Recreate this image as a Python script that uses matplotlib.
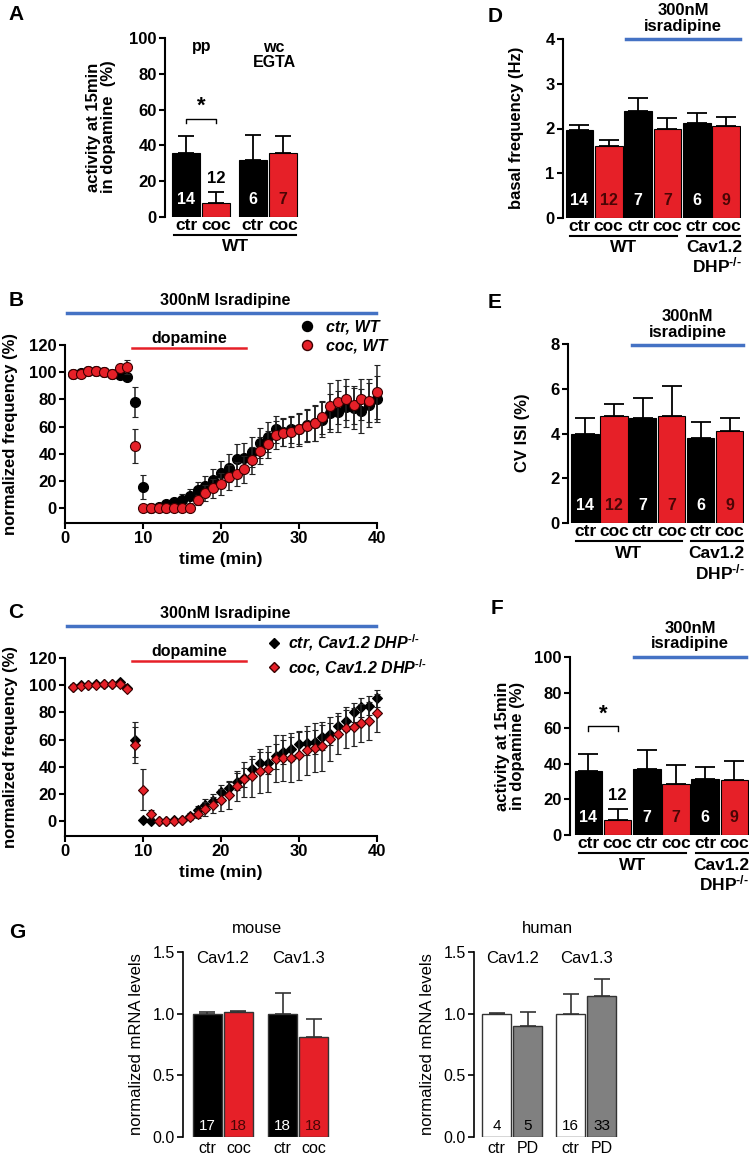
import numpy as np
import matplotlib
matplotlib.use("Agg")
import matplotlib.pyplot as plt
from matplotlib.lines import Line2D

plt.rcParams['font.family'] = ['Liberation Sans', 'DejaVu Sans']
plt.rcParams['font.weight'] = 'bold'
plt.rcParams['axes.labelweight'] = 'bold'
plt.rcParams['mathtext.fontset'] = 'custom'
plt.rcParams['mathtext.rm'] = 'Liberation Sans:bold'
plt.rcParams['mathtext.it'] = 'Liberation Sans:bold:italic'
plt.rcParams['mathtext.bf'] = 'Liberation Sans:bold'
plt.rcParams['axes.linewidth'] = 1.5

RED = '#e62028'
DARKRED = '#4a0505'
BLUE = '#4472c4'
NARROW = ['Liberation Sans Narrow', 'Liberation Sans', 'DejaVu Sans']
SUP = r'$^{\text{-/-}}$'

# ---- data ----
# A: activity at 15 min in dopamine, pp / wc EGTA
a_labels = ['ctr', 'coc', 'ctr', 'coc']
a_mean = [36, 8, 32, 36]
a_sem = [9, 6, 14, 9.5]
a_n = ['14', '12', '6', '7']

# D, E, F: WT ctr/coc, WT + isradipine ctr/coc, Cav1.2 DHP-/- + isradipine ctr/coc
def_labels = ['ctr', 'coc', 'ctr', 'coc', 'ctr', 'coc']
def_n = ['14', '12', '7', '7', '6', '9']
d_mean = [1.97, 1.62, 2.39, 1.98, 2.12, 2.06]
d_sem = [0.11, 0.12, 0.30, 0.25, 0.23, 0.20]
e_mean = [3.97, 4.80, 4.71, 4.80, 3.82, 4.09]
e_sem = [0.73, 0.50, 0.86, 1.32, 0.68, 0.62]
f_mean = [36.1, 8.4, 37.1, 28.7, 31.5, 31.0]
f_sem = [9.4, 6.2, 10.7, 10.6, 6.5, 10.5]

# B, C: time courses (min 1..40)
t_min = np.arange(1, 41)
b_ctr = [99, 99.5, 100.5, 100.5, 100, 99, 98, 96.5, 78, 15.5,
         0, 0.5, 3, 4.5, 6, 9, 13, 16.5, 21, 25.5,
         29.5, 36, 37, 41, 47.6, 52.4, 58, 56, 58, 58,
         61, 62.5, 65, 70, 71, 74.5, 73.3, 71.5, 75.7, 80]
b_ctr_sem = [1, 1, 1, 1, 1, 1, 2, 2, 11, 9,
             0.5, 0.5, 2, 3, 4, 5, 6, 7, 8, 9,
             10, 11, 11, 11, 11, 11, 10, 10, 10, 11,
             12, 13, 13, 14, 15, 15, 15, 16, 16, 17]
b_coc = [98.5, 99, 100.7, 100.7, 100, 98.5, 103, 104, 45.5, 0,
         0, 0, 0, 0, 0, 0, 5.9, 11.3, 14.5, 17.6,
         22.5, 25, 28.4, 35.3, 42.2, 47, 53.7, 55.6, 56, 58,
         60.3, 62.3, 66.7, 75, 78, 80, 75.7, 80, 79, 85.5]
b_coc_sem = [1.5, 1.5, 1.5, 1.5, 1.5, 1.5, 3, 5, 12.5, 0.3,
             0.3, 0.3, 0.3, 0.3, 0.3, 0.3, 4, 6, 7, 8,
             9, 9, 10, 10, 10, 10, 10, 10, 11, 12,
             12, 13, 12, 17, 16, 15, 14, 15, 16, 20]
c_ctr = [99, 100, 100, 100.5, 101, 101, 102, 98, 60, 1,
         0, 0, 0, 0.5, 1, 4, 8, 12, 15, 21.5,
         24, 29, 32, 38.6, 42.7, 42.5, 47.6, 50.8, 53.2, 56.4,
         57.4, 58, 61.5, 64, 69.6, 74, 80, 83.7, 85, 90.3]
c_ctr_sem = [1, 1, 1, 1, 1, 1, 1, 1, 13, 1,
             0.5, 0.5, 0.5, 0.5, 0.5, 2, 3, 4, 5, 5,
             5.5, 6, 7, 7, 8, 8, 9, 9, 9, 9,
             9, 9, 9, 8, 8, 8, 7, 7, 7, 6.3]
c_coc = [99, 99.5, 100, 100, 100.5, 101, 101, 97, 56, 23,
         5, 0, 0, 0, 0.5, 3, 5.5, 9, 12, 15.4,
         19, 25.6, 30.7, 33, 36.8, 38.6, 46, 46.6, 46.6, 48.4,
         52, 54, 55, 60.5, 64.2, 68.6, 69, 72, 73.5, 79.3]
c_coc_sem = [1.5, 1.5, 1.5, 1.5, 1.5, 1.5, 1.5, 1.5, 13, 15,
             3, 0.5, 0.5, 0.5, 0.5, 2, 3, 5, 6, 8,
             10, 11, 13, 15, 16, 17, 17, 17, 18, 18,
             18, 18, 18, 16, 15, 15, 14, 14, 14, 14]

# G: mRNA levels
g_genes = ['Cav1.2', 'Cav1.3']
g_mouse_labels = ['ctr', 'coc', 'ctr', 'coc']
g_mouse_mean = [1.0, 1.01, 1.0, 0.81]
g_mouse_sem = [0.01, 0.01, 0.17, 0.15]
g_mouse_n = ['17', '18', '18', '18']
g_human_labels = ['ctr', 'PD', 'ctr', 'PD']
g_human_mean = [1.0, 0.90, 1.0, 1.14]
g_human_sem = [0.005, 0.11, 0.16, 0.14]
g_human_n = ['4', '5', '16', '33']

W, H = 749, 1156
fig = plt.figure(figsize=(W / 100, H / 100), dpi=100)

TICK_FS = 12
LAB_FS = 12.5
YL_FS = 12


def add_ax(x0, y0, x1, y1):
    return fig.add_axes([x0 / W, 1 - y1 / H, (x1 - x0) / W, (y1 - y0) / H])


def ftext(x, y, s, **kw):
    kw.setdefault('ha', 'center')
    kw.setdefault('va', 'center')
    return fig.text(x / W, 1 - y / H, s, **kw)


def style(ax):
    for s in ['top', 'right']:
        ax.spines[s].set_visible(False)
    ax.tick_params(direction='out', length=4, width=1.5, labelsize=TICK_FS, pad=2)


def bar_panel(ax, pos, mean, sem, labels, n, capsize=7, above=()):
    colors = ['black' if i % 2 == 0 else RED for i in range(len(mean))]
    ax.bar(pos, mean, width=0.94, color=colors, edgecolor='black', linewidth=0.8, zorder=2)
    ax.errorbar(pos, mean, yerr=[np.zeros(len(sem)), sem], fmt='none', ecolor='black',
                elinewidth=1.3, capsize=capsize, capthick=1.3, zorder=3)
    for i, s in enumerate(n):
        if i in above:
            ax.annotate(s, (pos[i], mean[i] + sem[i]), xytext=(0, 10), textcoords='offset points',
                        ha='center', va='center', fontsize=12, color='black')
        else:
            col = 'white' if i % 2 == 0 else DARKRED
            ax.annotate(s, (pos[i], 0), xytext=(0, 12.5), textcoords='offset points',
                        ha='center', va='center', fontsize=11.5, color=col, zorder=4)
    ax.set_xticks(pos, labels)
    ax.tick_params(axis='x', length=0, pad=1, labelsize=LAB_FS)
    ax.spines['bottom'].set_visible(False)


def group(ax, x0, x1, label, height_px, line_px=18, text_px=30, ha='center', xt=None):
    tr = ax.get_xaxis_transform()
    yl = -line_px / height_px
    ax.plot([x0, x1], [yl, yl], color='black', lw=1.5, transform=tr, clip_on=False)
    if xt is None:
        xt = (x0 + x1) / 2
    ax.text(xt, -text_px / height_px, label, transform=tr, ha=ha, va='center', fontsize=LAB_FS)


def isradipine(ax, x0, x1, yline, ytext):
    tr = ax.get_xaxis_transform()
    ax.plot([x0, x1], [yline, yline], color=BLUE, lw=2.5, transform=tr, clip_on=False)
    ax.text((x0 + x1) / 2, ytext, '300nM\nisradipine', transform=tr, ha='center', va='center',
            fontsize=12, linespacing=1.05)


def bracket(ax, x0, x1, y, h):
    ax.plot([x0, x0, x1, x1], [y - h, y, y, y - h], color='black', lw=1.0, clip_on=False)
    ax.text((x0 + x1) / 2, y + h * 0.3, '*', ha='center', va='bottom', fontsize=16)


# ---- A ----
axA = add_ax(165, 38, 300, 217)
style(axA)
a_pos = np.arange(4) + np.array([0, 0, 0.23, 0.23])
bar_panel(axA, a_pos, a_mean, a_sem, a_labels, a_n, capsize=6, above=(1,))
axA.set_xlim(-0.7, 3.8)
axA.set_ylim(0, 100)
axA.set_yticks(range(0, 101, 20))
bracket(axA, a_pos[0], a_pos[1], 55, 2.5)
group(axA, a_pos[0] - 0.4, a_pos[3] + 0.45, 'WT', 179)
ftext(202, 46, 'pp', fontsize=11.5)
ftext(274, 55, 'wc\nEGTA', fontsize=11.5, linespacing=1.05)
ftext(101, 127, 'activity at 15min\nin dopamine  (%)', rotation=90, fontsize=YL_FS, linespacing=1.0)
ftext(16, 15, 'A', fontsize=15)

# ---- D ----
axD = add_ax(563, 39, 741, 218)
style(axD)
d_pos = np.arange(6)
bar_panel(axD, d_pos, d_mean, d_sem, def_labels, def_n)
axD.set_xlim(-0.56, 5.51)
axD.set_ylim(0, 4)
axD.set_yticks(range(0, 5))
group(axD, -0.32, 3.33, 'WT', 179)
group(axD, 3.67, 5.48, 'Cav1.2', 179, ha='right', xt=5.55)
axD.text(5.55, -47 / 179, 'DHP' + SUP, transform=axD.get_xaxis_transform(), ha='right',
         va='center', fontsize=LAB_FS)
isradipine(axD, 1.6, 5.48, 1.0, 1.115)
ftext(516, 128, 'basal frequency (Hz)', rotation=90, fontsize=YL_FS)
ftext(495, 16, 'D', fontsize=15)

# ---- E ----
axE = add_ax(568, 344, 744, 523)
style(axE)
e_pos = np.arange(6)
bar_panel(axE, e_pos, e_mean, e_sem, def_labels, def_n)
axE.set_xlim(-0.59, 5.5)
axE.set_ylim(0, 8)
axE.set_yticks(range(0, 9, 2))
group(axE, -0.33, 3.35, 'WT', 179)
group(axE, 3.67, 5.47, 'Cav1.2', 179, ha='right', xt=5.52)
axE.text(5.52, -49 / 179, 'DHP' + SUP, transform=axE.get_xaxis_transform(), ha='right',
         va='center', fontsize=LAB_FS)
isradipine(axE, 1.63, 5.47, 0.995, 1.11)
ftext(523, 433, 'CV ISI (%)', rotation=90, fontsize=YL_FS)
ftext(495, 302, 'E', fontsize=15)

# ---- F ----
axF = add_ax(570, 657, 749, 835)
style(axF)
f_pos = np.arange(6)
bar_panel(axF, f_pos, f_mean, f_sem, def_labels, def_n, above=(1,))
axF.set_xlim(-0.63, 5.5)
axF.set_ylim(0, 100)
axF.set_yticks(range(0, 101, 20))
bracket(axF, f_pos[0], f_pos[1], 61, 2.5)
group(axF, -0.33, 3.35, 'WT', 178)
group(axF, 3.67, 5.47, 'Cav1.2', 178, ha='right', xt=5.5)
axF.text(5.5, -48 / 178, 'DHP' + SUP, transform=axF.get_xaxis_transform(), ha='right',
         va='center', fontsize=LAB_FS)
isradipine(axF, 1.56, 5.41, 1.0, 1.118)
ftext(510, 746, 'activity at 15min\nin dopamine (%)', rotation=90, fontsize=YL_FS, linespacing=1.0)
ftext(497, 608, 'F', fontsize=15)


# ---- B, C ----
def time_panel(ax, ctr, ctr_sem, coc, coc_sem, marker, ms, labels, leg_x, leg_pad):
    for s in ['top', 'right']:
        ax.spines[s].set_visible(False)
    ax.tick_params(direction='out', length=4, width=1.5, labelsize=TICK_FS, pad=2)
    ax.errorbar(t_min, ctr, yerr=ctr_sem, fmt=marker, ms=ms, mfc='black', mec='black', mew=0.8,
                ecolor='#222222', elinewidth=1.1, capsize=2.2, capthick=1.1, zorder=3, clip_on=False)
    ax.errorbar(t_min, coc, yerr=coc_sem, fmt=marker, ms=ms, mfc=RED, mec='#3a0000', mew=0.8,
                ecolor='#222222', elinewidth=1.1, capsize=2.2, capthick=1.1, zorder=4, clip_on=False)
    ax.set_xlim(0, 40)
    ax.set_ylim(-11, 120)
    ax.set_xticks(range(0, 41, 10))
    ax.set_yticks(range(0, 121, 20))
    ax.set_xlabel('time (min)', fontsize=12.5, labelpad=4)
    ax.plot([0.3, 39.9], [143.4, 143.4], color=BLUE, lw=2.5, clip_on=False)
    ax.text(20.6, 153, '300nM Isradipine', ha='center', va='center', fontsize=11.5)
    ax.plot([8.6, 23.2], [117.6, 117.6], color=RED, lw=1.8, clip_on=False)
    ax.text(15.9, 125, 'dopamine', ha='center', va='center', fontsize=11.5)
    handles = [Line2D([], [], ls='none', marker=marker, ms=ms, mfc='black', mec='black'),
               Line2D([], [], ls='none', marker=marker, ms=ms, mfc=RED, mec='#3a0000')]
    ax.legend(handles, labels, loc='upper left', bbox_to_anchor=(leg_x, 1.145), frameon=False,
              handlelength=1.0, handletextpad=leg_pad, labelspacing=0.25, borderpad=0,
              borderaxespad=0, prop={'style': 'italic', 'weight': 'bold', 'size': 11.5})


axB = add_ax(65, 345, 377, 523)
time_panel(axB, b_ctr, b_ctr_sem, b_coc, b_coc_sem, 'o', 7.2, ['ctr, WT', 'coc, WT'], 0.75, 0.7)
ftext(11, 434, 'normalized frequency (%)', rotation=90, fontsize=YL_FS)
ftext(16, 300, 'B', fontsize=15)

axC = add_ax(65, 658, 377, 836)
time_panel(axC, c_ctr, c_ctr_sem, c_coc, c_coc_sem, 'D', 5.2,
           ['ctr, Cav1.2 DHP' + SUP, 'coc, Cav1.2 DHP' + SUP], 0.645, 0.35)
ftext(11, 747, 'normalized frequency (%)', rotation=90, fontsize=YL_FS)
ftext(16, 612, 'C', fontsize=15)


# ---- G ----
def mrna_panel(ax, pos, mean, sem, labels, n, colors, ncolors, title):
    for s in ['top', 'right', 'bottom']:
        ax.spines[s].set_visible(False)
    ax.spines['left'].set_linewidth(1.2)
    ax.bar(pos, mean, width=0.95, color=colors, edgecolor='#333333', linewidth=1.0, zorder=2)
    ax.errorbar(pos, mean, yerr=[np.zeros(len(sem)), sem], fmt='none', ecolor='#333333',
                elinewidth=1.2, capsize=6, capthick=1.2, zorder=3)
    for i, s in enumerate(n):
        ax.annotate(s, (pos[i], 0), xytext=(0, 8), textcoords='offset points', ha='center',
                    va='center', fontsize=11, color=ncolors[i], family=NARROW, weight='normal')
    ax.set_ylim(0, 1.5)
    ax.set_yticks([0, 0.5, 1.0, 1.5], ['0.0', '0.5', '1.0', '1.5'])
    ax.set_xticks(pos, labels)
    ax.tick_params(axis='x', length=0, pad=3)
    ax.tick_params(axis='y', direction='out', length=4, width=1.2, pad=2)
    for lab in ax.get_xticklabels() + ax.get_yticklabels():
        lab.set_family(NARROW)
        lab.set_weight('normal')
        lab.set_fontsize(11.5)
    for k, g in enumerate(g_genes):
        ax.text((pos[2 * k] + pos[2 * k + 1]) / 2, 1.45, g, ha='center', va='center',
                fontsize=12, family=NARROW, weight='normal')
    ax.set_ylabel('normalized mRNA levels', fontsize=12, family=NARROW, weight='normal', labelpad=6)
    ax.set_title(title, fontsize=12, family=NARROW, weight='normal', pad=14)


axGm = add_ax(183, 952, 330, 1137)
gm_pos = np.arange(4) + np.array([0, 0, 0.43, 0.43])
mrna_panel(axGm, gm_pos, g_mouse_mean, g_mouse_sem, g_mouse_labels, g_mouse_n,
           ['black', RED, 'black', RED], ['white', DARKRED, 'white', DARKRED], 'mouse')
axGm.set_xlim(-0.79, 3.96)

axGh = add_ax(474, 952, 620, 1137)
gh_pos = np.arange(4) + np.array([0, 0, 0.39, 0.39])
mrna_panel(axGh, gh_pos, g_human_mean, g_human_sem, g_human_labels, g_human_n,
           ['white', '#808080', 'white', '#808080'], ['black'] * 4, 'human')
axGh.set_xlim(-0.73, 3.98)
ftext(17, 933, 'G', fontsize=15, family=NARROW)

fig.savefig('out.png', dpi=100)
